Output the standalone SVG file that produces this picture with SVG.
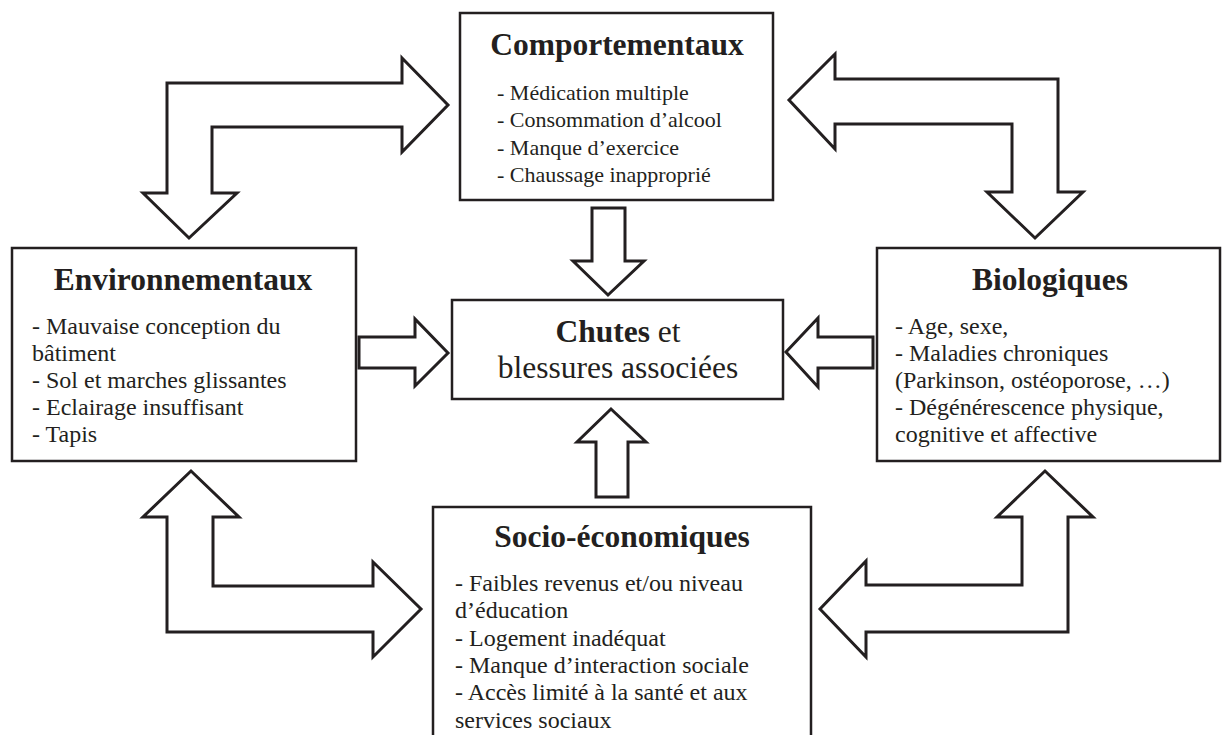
<svg xmlns="http://www.w3.org/2000/svg" width="1222" height="735" viewBox="0 0 1222 735">
<style>
.box{fill:#fff;stroke:#231f20;stroke-width:2.5}
.arr{fill:#fff;stroke:#231f20;stroke-width:3;stroke-linejoin:miter;stroke-miterlimit:10}
text{font-family:"Liberation Serif","Times New Roman",serif;fill:#231f20}
.title{font-size:31.5px;font-weight:bold;text-anchor:middle}
.body{font-size:22px}
.body2{font-size:24px}
.big{font-size:31.5px}
</style>
<rect width="1222" height="735" fill="#fff"/>
<g id="connectors">
<polygon class="arr" points="402,58 448,105 402,152 402,127 212,127 212,193 237,193 189,238 143,193 167,193 167,83 402,83"/>
<polygon class="arr" points="835,54 789,100 835,149 835,124 1012,124 1012,192 987,192 1035,238 1083,192 1058,192 1058,79 835,79"/>
<polygon class="arr" points="191,471 239,517 213,517 213,586 373,586 373,562 421,609 373,657 373,632 167,632 167,517 143,517"/>
<polygon class="arr" points="1045,471 1093,517 1068,517 1068,632 866,632 866,657 820,609 866,561 866,585 1022,585 1022,517 997,517"/>
<polygon class="arr" points="592,208 625,208 625,261 644,261 608,295 573,261 592,261"/>
<polygon class="arr" points="611,409 646,442 628,442 628,497 596,497 596,442 577,442"/>
<polygon class="arr" points="359,337 415,337 415,319 448,353 415,386 415,368 359,368"/>
<polygon class="arr" points="873,337 818,337 818,318 786,352 818,387 818,368 873,368"/>
</g>
<g id="comportementaux">
<rect class="box" x="460" y="13" width="313" height="187"/>
<text class="title" x="617" y="55">Comportementaux</text>
<text class="body" x="497" y="100">- Médication multiple</text>
<text class="body" x="497" y="127">- Consommation d’alcool</text>
<text class="body" x="497" y="155">- Manque d’exercice</text>
<text class="body" x="497" y="182">- Chaussage inapproprié</text>
</g>
<g id="environnementaux">
<rect class="box" x="12" y="248" width="344" height="213"/>
<text class="title" x="183" y="290">Environnementaux</text>
<text class="body2" x="32" y="334">- Mauvaise conception du</text>
<text class="body2" x="32" y="361">bâtiment</text>
<text class="body2" x="32" y="388">- Sol et marches glissantes</text>
<text class="body2" x="32" y="415">- Eclairage insuffisant</text>
<text class="body2" x="32" y="442">- Tapis</text>
</g>
<g id="biologiques">
<rect class="box" x="877" y="248" width="343" height="213"/>
<text class="title" x="1050" y="290">Biologiques</text>
<text class="body2" x="895" y="334">- Age, sexe,</text>
<text class="body2" x="895" y="361">- Maladies chroniques</text>
<text class="body2" x="895" y="388">(Parkinson, ostéoporose, …)</text>
<text class="body2" x="895" y="415">- Dégénérescence physique,</text>
<text class="body2" x="895" y="442">cognitive et affective</text>
</g>
<g id="chutes">
<rect class="box" x="452" y="300" width="331" height="99"/>
<text class="big" x="618" y="342" text-anchor="middle"><tspan font-weight="bold">Chutes</tspan> et</text>
<text class="big" x="618" y="378" text-anchor="middle">blessures associées</text>
</g>
<g id="socio">
<rect class="box" x="433" y="507" width="378" height="240"/>
<text class="title" x="622" y="547">Socio-économiques</text>
<text class="body2" x="455" y="591">- Faibles revenus et/ou niveau</text>
<text class="body2" x="455" y="618">d’éducation</text>
<text class="body2" x="455" y="646">- Logement inadéquat</text>
<text class="body2" x="455" y="673">- Manque d’interaction sociale</text>
<text class="body2" x="455" y="700">- Accès limité à la santé et aux</text>
<text class="body2" x="455" y="728">services sociaux</text>
</g>
</svg>
